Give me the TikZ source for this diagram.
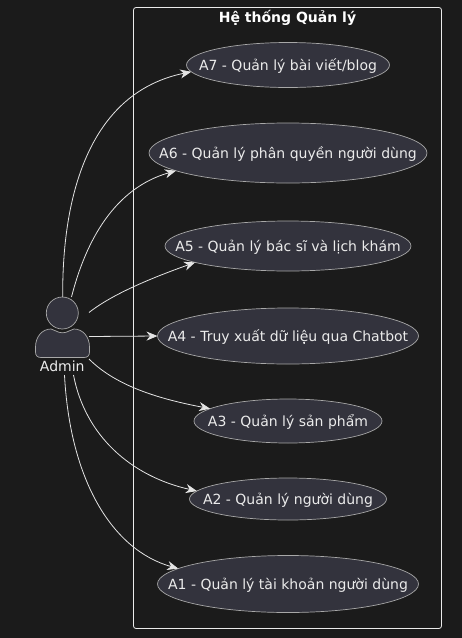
\documentclass[tikz,border=0pt]{standalone}
\usepackage{fontspec}
\setmainfont{DejaVu Sans}
\usetikzlibrary{shapes.geometric, arrows.meta}
\definecolor{fundo}{HTML}{1B1B1B}
\definecolor{caso}{HTML}{33333D}
\definecolor{borda}{HTML}{A8A8A8}
\definecolor{linha}{HTML}{E4E4E4}
\newcommand{\rotulo}[1]{\makebox[0pt]{\smash{\raisebox{-5pt}{#1}}}}
\tikzset{
	% use cases
	usecase/.style={
		ellipse,
		draw=borda,
		fill=caso,
		line width=0.7pt,
		inner sep=0pt,
		outer sep=0pt,
		text=white!92!black,
		font=\fontsize{14}{16}\selectfont
	}, %
	% arrows from the actor
	seta/.style={
		-{Stealth[length=11pt, width=9pt, inset=3.5pt]},
		linha,
		line width=0.8pt
	}, %
	% actor body
	boneco/.style={
		draw=borda,
		fill=caso,
		line width=0.7pt
	} %
}

\begin{document}
\begin{tikzpicture}[x=1pt, y=-1pt]
	% fundo
	\path[use as bounding box, fill=fundo] (0,0) rectangle (462,638);

	% sistema
	\draw[white!92!black, line width=0.8pt, rounded corners=2.5pt] (133.5,7.5) rectangle (441.5,628.5);
	\node[text=white, font=\fontsize{14}{16}\selectfont\bfseries] (titulo) at (287.5,18) {Hệ thống Quản lý};

	% casos
	\node[usecase, minimum width=203pt, minimum height=45pt] (a7) at (288,65) {\rotulo{A7 - Quản lý bài viết/blog}};
	\node[usecase, minimum width=278pt, minimum height=60pt] (a6) at (288,153) {\rotulo{A6 - Quản lý phân quyền người dùng}};
	\node[usecase, minimum width=246pt, minimum height=50pt] (a5) at (288,246) {\rotulo{A5 - Quản lý bác sĩ và lịch khám}};
	\node[usecase, minimum width=261pt, minimum height=56pt] (a4) at (288,336) {\rotulo{A4 - Truy xuất dữ liệu qua Chatbot}};
	\node[usecase, minimum width=188pt, minimum height=44pt] (a3) at (288,421) {\rotulo{A3 - Quản lý sản phẩm}};
	\node[usecase, minimum width=197pt, minimum height=42pt] (a2) at (288,499) {\rotulo{A2 - Quản lý người dùng}};
	\node[usecase, minimum width=261pt, minimum height=57pt] (a1) at (288,584) {\rotulo{A1 - Quản lý tài khoản người dùng}};

	% ator
	\node[circle, boneco, minimum size=32pt, inner sep=0pt] (cabeca) at (62.3,313) {};
	\draw[boneco] (35.5,347) .. controls (35.5,337) and (42,329) .. (51,329)
		.. controls (55,329.5) and (57,332.8) .. (62.5,332.8)
		.. controls (68,332.8) and (70,329.5) .. (74,329)
		.. controls (83,329) and (89.5,337) .. (89.5,347)
		-- (89.5,352) .. controls (89.5,355.5) and (87.5,357.5) .. (84,357.5)
		-- (41,357.5) .. controls (37.5,357.5) and (35.5,355.5) .. (35.5,352) -- cycle;
	\node[text=white!92!black, font=\fontsize{14}{16}\selectfont] (admin) at (62.3,366) {Admin};

	% saidas
	\coordinate (s7) at (62.7,297);
	\coordinate (s6) at (71.5,297);
	\coordinate (s5) at (89,312.5);
	\coordinate (s4) at (89,336.5);
	\coordinate (s3) at (89,359);
	\coordinate (s2) at (73.5,375);
	\coordinate (s1) at (64.5,375);

	% setas
	\draw[seta] (s7) .. controls (62,190) and (92,92) .. (a7.184);
	\draw[seta] (s6) .. controls (86,240) and (115,188) .. (a6.189);
	\draw[seta] (s5) .. controls (115,292) and (160,275) .. (a5.190);
	\draw[seta] (s4) -- (a4.west);
	\draw[seta] (s3) .. controls (118,388) and (165,400) .. (a3.171);
	\draw[seta] (s2) .. controls (85,435) and (130,476) .. (a2.175);
	\draw[seta] (s1) .. controls (70,480) and (112,550) .. (a1.172);
\end{tikzpicture}
\end{document}
